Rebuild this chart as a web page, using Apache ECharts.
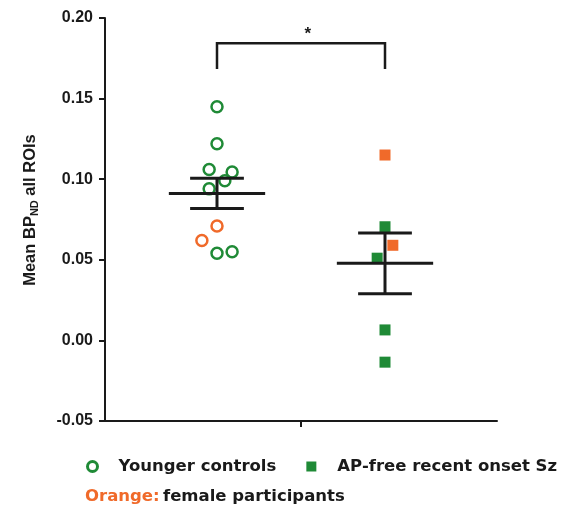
<!DOCTYPE html>
<html>
<head>
<meta charset="utf-8">
<title>BPnd scatter</title>
<script src="https://cdn.jsdelivr.net/npm/echarts@6/dist/echarts.min.js"></script>
<style>
  body { margin: 0; padding: 0; background: #fff; }
  #main { width: 564px; height: 509px; }
</style>
</head>
<body>
<div id="main"></div>
<script>
// group centres on the x value axis (0..7), centre tick at 3.5
var groupX = [2, 5];
var groupNames = ['Younger controls', 'AP-free recent onset Sz'];

// younger controls, male (green) and female (orange); jitter in axis units
var ctrlMaleY = [0.145, 0.122, 0.106, 0.1045, 0.099, 0.094, 0.054, 0.055];
var ctrlMaleJit = [0, 0, -0.14, 0.27, 0.14, -0.14, 0, 0.27];
var ctrlFemaleY = [0.071, 0.062];
var ctrlFemaleJit = [0, -0.27];

// AP-free recent onset Sz
var szMaleY = [0.0705, 0.051, 0.0065, -0.0135];
var szMaleJit = [0, -0.14, 0, 0];
var szFemaleY = [0.115, 0.059];
var szFemaleJit = [0, 0.14];

// mean and SEM per group
var groupMean = [0.0912, 0.0478];
var groupSem = [0.0094, 0.0188];

// significance bracket
var bracketTop = 0.1843, bracketBottom = 0.1684;
var starX = 3.62, starY = 0.1898;

var yTicks = [-0.05, 0.2, 0.05]; // min, max, step

var GREEN = '#1f8a36', ORANGE = '#f06a2a', INK = '#1a1a1a';
var LEG_FONT = 'DejaVu Sans';

function pts(gi, ys, jit) {
    return ys.map(function (v, i) { return [groupX[gi] + jit[i], v]; });
}

var chart = echarts.init(document.getElementById('main'));

var option = {
    animation: false,
    grid: { left: 105, right: 67, top: 18, bottom: 88 },
    xAxis: {
        type: 'value', min: 0, max: 7,
        splitLine: { show: false },
        axisLine: { onZero: false, lineStyle: { color: INK, width: 2 } },
        axisTick: { customValues: [3.5], length: 6, lineStyle: { color: INK, width: 2 } },
        axisLabel: { show: false }
    },
    yAxis: {
        type: 'value', min: yTicks[0], max: yTicks[1], interval: yTicks[2],
        splitLine: { show: false },
        axisLine: { show: true, lineStyle: { color: INK, width: 2 } },
        axisTick: { show: true, length: 6, lineStyle: { color: INK, width: 2 } },
        axisLabel: {
            color: INK, fontFamily: 'Liberation Sans', fontWeight: 'bold', fontSize: 16, margin: 12,
            formatter: function (v) { return v.toFixed(2); }
        }
    },
    legend: {
        left: 81, top: 453,
        itemWidth: 10, itemHeight: 10, itemGap: 30,
        textStyle: { color: INK, fontFamily: LEG_FONT, fontWeight: 'bold', fontSize: 16.5, padding: [0, 0, 0, 16] },
        data: [
            { name: groupNames[0], icon: 'circle', itemStyle: { color: '#fff', borderColor: GREEN, borderWidth: 3 } },
            { name: groupNames[1], icon: 'rect', itemStyle: { color: GREEN } }
        ]
    },
    graphic: [
        {
            type: 'text', x: 30, y: 210, rotation: Math.PI / 2,
            style: {
                text: '{a|Mean BP}{s|ND}{a| all ROIs}',
                align: 'center', verticalAlign: 'middle',
                rich: {
                    a: { fontFamily: 'Liberation Sans', fontWeight: 'bold', fontSize: 16.5, fill: INK, lineHeight: 22 },
                    s: { fontFamily: 'Liberation Sans', fontWeight: 'bold', fontSize: 11, fill: INK, lineHeight: 22, padding: [9, 0, 0, 0] }
                }
            }
        },
        {
            type: 'text', left: 85, top: 488,
            style: {
                text: '{o|Orange:} {b|female participants}',
                rich: {
                    o: { fill: ORANGE, fontFamily: LEG_FONT, fontWeight: 'bold', fontSize: 16.5 },
                    b: { fill: INK, fontFamily: LEG_FONT, fontWeight: 'bold', fontSize: 16.5 }
                }
            }
        }
    ],
    series: [
        {
            name: groupNames[0], type: 'scatter', symbol: 'circle', symbolSize: 11,
            itemStyle: { color: '#fff', borderColor: GREEN, borderWidth: 2.5, opacity: 1 },
            data: pts(0, ctrlMaleY, ctrlMaleJit), z: 3
        },
        {
            name: 'ctrlFemale', type: 'scatter', symbol: 'circle', symbolSize: 11,
            itemStyle: { color: '#fff', borderColor: ORANGE, borderWidth: 2.5, opacity: 1 },
            data: pts(0, ctrlFemaleY, ctrlFemaleJit), z: 3
        },
        {
            name: groupNames[1], type: 'scatter', symbol: 'rect', symbolSize: 11,
            itemStyle: { color: GREEN, opacity: 1 },
            data: pts(1, szMaleY, szMaleJit), z: 3
        },
        {
            name: 'szFemale', type: 'scatter', symbol: 'rect', symbolSize: 11,
            itemStyle: { color: ORANGE, opacity: 1 },
            data: pts(1, szFemaleY, szFemaleJit), z: 3
        },
        {
            // mean line with SEM whiskers
            type: 'custom', z: 5,
            data: groupX.map(function (x, i) { return [x, groupMean[i], groupSem[i]]; }),
            renderItem: function (params, api) {
                var x = api.value(0), m = api.value(1), s = api.value(2);
                var st = { stroke: INK, lineWidth: 3 };
                var ml = api.coord([x - 0.86, m]), mr = api.coord([x + 0.86, m]);
                var hi = api.coord([x, m + s]), lo = api.coord([x, m - s]);
                var cw = 0.48 * (api.coord([1, 0])[0] - api.coord([0, 0])[0]);
                return {
                    type: 'group',
                    children: [
                        { type: 'line', shape: { x1: ml[0], y1: ml[1], x2: mr[0], y2: mr[1] }, style: st },
                        { type: 'line', shape: { x1: hi[0], y1: hi[1], x2: lo[0], y2: lo[1] }, style: st },
                        { type: 'line', shape: { x1: hi[0] - cw, y1: hi[1], x2: hi[0] + cw, y2: hi[1] }, style: st },
                        { type: 'line', shape: { x1: lo[0] - cw, y1: lo[1], x2: lo[0] + cw, y2: lo[1] }, style: st }
                    ]
                };
            }
        },
        {
            // significance bracket
            type: 'custom', z: 5,
            data: [[groupX[0], groupX[1], bracketTop, bracketBottom]],
            renderItem: function (params, api) {
                var a = api.coord([api.value(0), api.value(2)]);
                var b = api.coord([api.value(1), api.value(2)]);
                var ab = api.coord([api.value(0), api.value(3)]);
                var bb = api.coord([api.value(1), api.value(3)]);
                var star = api.coord([starX, starY]);
                return {
                    type: 'group',
                    children: [
                        { type: 'polyline', shape: { points: [ab, a, b, bb] }, style: { stroke: INK, lineWidth: 2.5, fill: null } },
                        { type: 'text', x: star[0], y: star[1], style: { text: '*', fill: INK, fontFamily: 'Liberation Sans', fontWeight: 'bold', fontSize: 17, align: 'center', verticalAlign: 'middle' } }
                    ]
                };
            }
        }
    ]
};

chart.setOption(option);
</script>
</body>
</html>
